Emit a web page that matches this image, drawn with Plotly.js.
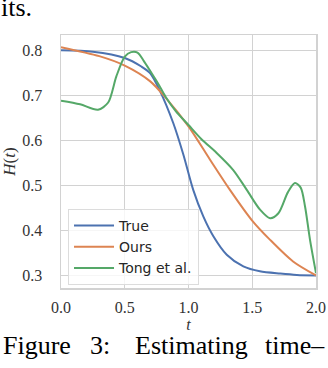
<!DOCTYPE html>
<html>
<head>
<meta charset="utf-8">
<script src="https://cdn.plot.ly/plotly-3.0.1.min.js"></script>
<style>
  html, body { margin: 0; padding: 0; background: #fff; }
  #chart { width: 328px; height: 368px; }
</style>
</head>
<body>
<div id="chart"></div>
<script>
// values
const tTrue = [0, 0.25, 0.5, 0.63, 0.7, 0.776, 0.881, 0.96, 1.037, 1.116, 1.195, 1.3, 1.43, 1.56, 1.72, 1.85, 2.0];
const hTrue = [0.800, 0.797, 0.783, 0.764, 0.749, 0.710, 0.638, 0.568, 0.490, 0.431, 0.387, 0.346, 0.320, 0.309, 0.304, 0.301, 0.300];

const tOurs = [0, 0.3, 0.5, 0.7, 0.82, 1.0, 1.169, 1.325, 1.496, 1.64, 1.82, 2.0];
const hOurs = [0.807, 0.787, 0.766, 0.731, 0.695, 0.631, 0.557, 0.490, 0.423, 0.379, 0.331, 0.300];

const tTong = [0, 0.15, 0.29, 0.37, 0.434, 0.5, 0.55, 0.6, 0.65, 0.7, 0.76, 0.82, 0.9, 1.0, 1.1, 1.221, 1.351, 1.457, 1.561, 1.64, 1.705, 1.78, 1.835, 1.88, 1.914, 1.953, 2.0];
const hTong = [0.688, 0.680, 0.668, 0.684, 0.742, 0.786, 0.796, 0.795, 0.776, 0.754, 0.727, 0.697, 0.665, 0.634, 0.603, 0.572, 0.534, 0.490, 0.446, 0.427, 0.438, 0.485, 0.505, 0.495, 0.453, 0.379, 0.305];

const seriesNames = ['True', 'Ours', 'Tong et al.'];
const seriesColors = ['#4C72B0', '#DD8452', '#55A868'];
const xTicks = [0, 0.5, 1.0, 1.5, 2.0];
const yTicks = [0.3, 0.4, 0.5, 0.6, 0.7, 0.8];

const serif = 'Liberation Serif, DejaVu Serif, serif';
const gridColor = '#d2d2d2';

const makeTrace = (x, y, i) => ({
    x, y,
    type: 'scatter',
    mode: 'lines',
    name: seriesNames[i],
    line: { color: seriesColors[i], width: 2, shape: 'spline', smoothing: 0.8 }
});

const traces = [
    makeTrace(tTrue, hTrue, 0),
    makeTrace(tOurs, hOurs, 1),
    makeTrace(tTong, hTong, 2)
];

// paper text around the figure (cropped page)
const pageText = [
    { text: 'its.', x: -0.245, y: 1.11 },
    { text: 'Figure', x: -0.235, y: -0.226 },
    { text: '3:', x: 0.105, y: -0.226 },
    { text: 'Estimating', x: 0.282, y: -0.226 },
    { text: 'time–', x: 0.792, y: -0.226 }
];

const layout = {
    width: 328,
    height: 368,
    margin: { l: 61, r: 12, t: 35, b: 80 },
    paper_bgcolor: '#fff',
    plot_bgcolor: '#fff',
    showlegend: true,
    xaxis: {
        range: [0, 2],
        tickvals: xTicks,
        ticktext: xTicks.map(v => v.toFixed(1)),
        showgrid: true, gridcolor: gridColor, gridwidth: 1,
        zeroline: false,
        showline: true, linecolor: gridColor, linewidth: 1.5, mirror: true,
        ticks: '', ticklabelstandoff: 4,
        tickfont: { family: serif, size: 16, color: '#333' },
        title: { text: '<i>t</i>', font: { family: serif, size: 16, color: '#333' }, standoff: 0 }
    },
    yaxis: {
        range: [0.272, 0.834],
        tickvals: yTicks,
        ticktext: yTicks.map(v => v.toFixed(1)),
        showgrid: true, gridcolor: gridColor, gridwidth: 1,
        zeroline: false,
        showline: true, linecolor: gridColor, linewidth: 1.5, mirror: true,
        ticks: '', ticklabelstandoff: 14,
        tickfont: { family: serif, size: 16, color: '#333' },
        title: { text: '<i>H</i>(<i>t</i>)', font: { family: serif, size: 17, color: '#333' }, standoff: 6 }
    },
    legend: {
        x: 0.0275, y: 0.012, xanchor: 'left', yanchor: 'bottom',
        bgcolor: 'rgba(255,255,255,0.8)',
        bordercolor: '#dcdcdc', borderwidth: 1,
        font: { family: 'DejaVu Sans, sans-serif', size: 14, color: '#262626' },
        itemwidth: 40
    },
    annotations: pageText.map(p => ({
        text: p.text, x: p.x, y: p.y,
        xref: 'paper', yref: 'paper',
        xanchor: 'left', yanchor: 'middle',
        showarrow: false,
        font: { family: serif, size: 26, color: '#000' }
    }))
};

Plotly.newPlot('chart', traces, layout, { displayModeBar: false, staticPlot: true });
</script>
</body>
</html>
